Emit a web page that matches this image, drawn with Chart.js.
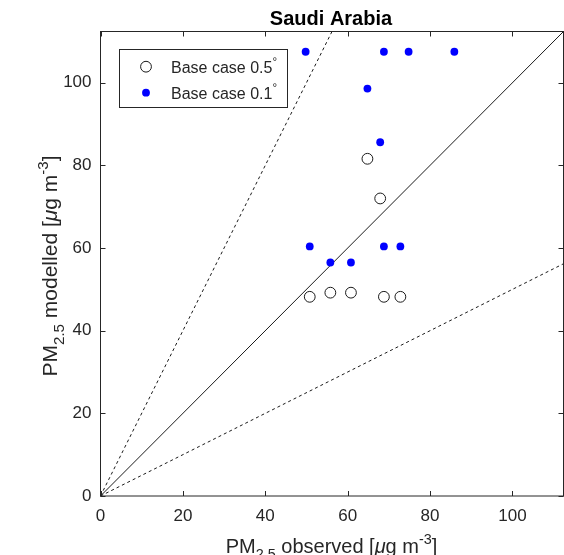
<!DOCTYPE html>
<html>
<head>
<meta charset="utf-8">
<script src="https://cdn.jsdelivr.net/npm/chart.js@4/dist/chart.umd.min.js"></script>
<style>
  html, body { margin: 0; padding: 0; background: #fff; }
  #wrap { width: 564px; height: 555px; }
</style>
</head>
<body>
<div id="wrap"><canvas id="c" width="564" height="555"></canvas></div>
<script>
// ---- data ----
const TITLE = 'Saudi Arabia';
const X_TICKS = [0, 20, 40, 60, 80, 100];
const Y_TICKS = [0, 20, 40, 60, 80, 100];
const AXIS_MAX = 112.4;

// 0.5° base case: observed vs modelled PM2.5
const OBS_05 = [50.8, 55.8, 60.8, 64.8, 67.9, 68.8, 72.8];
const MOD_05 = [48.2, 49.2, 49.2, 81.6, 72.0, 48.2, 48.2];

// 0.1° base case
const OBS_01 = [49.8, 68.8, 74.8, 85.9, 64.8, 67.9, 50.8, 68.8, 72.8, 55.8, 60.8];
const MOD_01 = [107.5, 107.5, 107.5, 107.5, 98.6, 85.6, 60.4, 60.4, 60.4, 56.5, 56.5];

const SERIES_LABELS = ['Base case 0.5°', 'Base case 0.1°'];

// reference lines: 1:1 (solid), 2:1 and 1:2 (dashed)
const REF_SLOPES = [1, 2, 0.5];

// axis titles as rich-text runs
const X_LABEL = [{t: 'PM'}, {t: '2.5', sub: true}, {t: ' observed ['}, {t: 'μ', italic: true}, {t: 'g m'}, {t: '-3', sup: true}, {t: ']'}];
const Y_LABEL = [{t: 'PM'}, {t: '2.5', sub: true}, {t: ' modelled ['}, {t: 'μ', italic: true}, {t: 'g m'}, {t: '-3', sup: true}, {t: ']'}];

// ---- styling ----
const FAMILY = '"Liberation Sans", Arial, Helvetica, sans-serif';
const INK = '#262626';

const toPoints = (xs, ys) => xs.map((x, i) => ({x, y: ys[i]}));

const refLine = k => {
  const xe = Math.min(AXIS_MAX, AXIS_MAX / k);
  return [{x: 0, y: 0}, {x: xe, y: k * xe}];
};

function drawRich(ctx, parts, x, y, size, color) {
  const fontFor = p => `${p.italic ? 'italic ' : ''}${(p.sub || p.sup) ? size * 0.72 : size}px ${FAMILY}`;
  let total = 0;
  parts.forEach(p => { ctx.font = fontFor(p); p.w = ctx.measureText(p.t).width; total += p.w; });
  let cx = x - total / 2;
  ctx.textAlign = 'left';
  ctx.textBaseline = 'alphabetic';
  ctx.fillStyle = color;
  parts.forEach(p => {
    ctx.font = fontFor(p);
    const dy = p.sub ? size * 0.32 : (p.sup ? -size * 0.45 : 0);
    ctx.fillText(p.t, cx, y + dy);
    cx += p.w;
  });
}

const decorations = {
  id: 'decorations',
  afterDatasetsDraw(chart) {
    const {ctx, chartArea: a, scales} = chart;
    ctx.save();
    // axes box
    ctx.strokeStyle = INK;
    ctx.lineWidth = 1;
    ctx.strokeRect(a.left, a.top, a.right - a.left, a.bottom - a.top);
    // inward tick marks on all four sides
    const TL = 5;
    ctx.beginPath();
    X_TICKS.forEach(v => {
      const px = Math.round(scales.x.getPixelForValue(v)) + 0.5;
      ctx.moveTo(px, a.bottom); ctx.lineTo(px, a.bottom - TL);
      ctx.moveTo(px, a.top); ctx.lineTo(px, a.top + TL);
    });
    Y_TICKS.forEach(v => {
      const py = Math.round(scales.y.getPixelForValue(v)) + 0.5;
      ctx.moveTo(a.left, py); ctx.lineTo(a.left + TL, py);
      ctx.moveTo(a.right, py); ctx.lineTo(a.right - TL, py);
    });
    ctx.stroke();
    ctx.restore();
  },
  afterDraw(chart) {
    const {ctx, chartArea: a} = chart;
    ctx.save();
    // title
    ctx.fillStyle = '#000';
    ctx.font = `bold 20px ${FAMILY}`;
    ctx.textAlign = 'center';
    ctx.textBaseline = 'alphabetic';
    ctx.fillText(TITLE, 331, 25);

    // axis titles
    drawRich(ctx, X_LABEL, 331.5, 553, 20, INK);
    ctx.save();
    ctx.translate(57, 266);
    ctx.rotate(-Math.PI / 2);
    drawRich(ctx, Y_LABEL, 0, 0, 21, INK);
    ctx.restore();

    // legend
    const bx = 119.5, by = 49.5, bw = 168, bh = 58;
    ctx.fillStyle = '#fff';
    ctx.fillRect(bx, by, bw, bh);
    ctx.strokeStyle = INK;
    ctx.lineWidth = 1;
    ctx.strokeRect(bx, by, bw, bh);
    const rows = [66.7, 92.7];
    chart.data.datasets.slice(0, 2).forEach((ds, i) => {
      const cy = rows[i];
      ctx.beginPath();
      ctx.arc(146, cy, ds.pointRadius, 0, Math.PI * 2);
      if (ds.pointBackgroundColor !== 'transparent') {
        ctx.fillStyle = ds.pointBackgroundColor;
        ctx.fill();
      }
      if (ds.pointBorderWidth > 0) {
        ctx.strokeStyle = ds.pointBorderColor;
        ctx.lineWidth = ds.pointBorderWidth;
        ctx.stroke();
      }
      const label = ds.label;
      const main = label.endsWith('°') ? label.slice(0, -1) : label;
      const parts = [{t: main}];
      if (main !== label) parts.push({t: '°', sup: true});
      // left-align the rich label at x = 171
      let w = 0;
      parts.forEach(p => { ctx.font = `${p.sup ? 16 * 0.72 : 16}px ${FAMILY}`; w += ctx.measureText(p.t).width; });
      drawRich(ctx, parts, 171 + w / 2, cy + 5.8, 16, INK);
    });
    ctx.restore();
  }
};

const datasets = [
  {
    label: SERIES_LABELS[0],
    data: toPoints(OBS_05, MOD_05),
    showLine: false,
    pointStyle: 'circle',
    pointRadius: 5.4,
    pointBackgroundColor: 'transparent',
    pointBorderColor: '#1a1a1a',
    pointBorderWidth: 1,
    pointHoverRadius: 5.4
  },
  {
    label: SERIES_LABELS[1],
    data: toPoints(OBS_01, MOD_01),
    showLine: false,
    pointStyle: 'circle',
    pointRadius: 3.9,
    pointBackgroundColor: '#0000ff',
    pointBorderColor: '#0000ff',
    pointBorderWidth: 0,
    pointHoverRadius: 3.9
  },
  ...REF_SLOPES.map(k => ({
    label: 'ref' + k,
    data: refLine(k),
    showLine: true,
    pointRadius: 0,
    borderColor: '#000',
    borderWidth: 0.9,
    borderDash: k === 1 ? [] : [3, 3],
    fill: false
  }))
];

const axisCommon = {
  type: 'linear',
  min: 0,
  max: AXIS_MAX,
  grid: {display: false, drawTicks: false},
  border: {display: false},
  ticks: {
    color: INK,
    font: {family: FAMILY, size: 17},
    includeBounds: false
  }
};

const noPad = s => { s.paddingLeft = 0; s.paddingRight = 0; s.paddingTop = 0; s.paddingBottom = 0; };

new Chart(document.getElementById('c'), {
  type: 'scatter',
  data: {datasets},
  options: {
    responsive: false,
    devicePixelRatio: 1,
    animation: false,
    clip: false,
    layout: {autoPadding: false, padding: {top: 31.5, right: 0.5, left: 0, bottom: 0}},
    plugins: {legend: {display: false}, tooltip: {enabled: false}, title: {display: false}},
    scales: {
      x: {
        ...axisCommon,
        position: 'bottom',
        ticks: {...axisCommon.ticks, padding: 10, maxRotation: 0},
        afterBuildTicks: s => { s.ticks = X_TICKS.map(v => ({value: v})); },
        afterFit: s => { s.height = 59; noPad(s); }
      },
      y: {
        ...axisCommon,
        position: 'left',
        ticks: {...axisCommon.ticks, padding: 9},
        afterBuildTicks: s => { s.ticks = Y_TICKS.map(v => ({value: v})); },
        afterFit: s => { s.width = 100.5; noPad(s); }
      }
    }
  },
  plugins: [decorations]
});
</script>
</body>
</html>
